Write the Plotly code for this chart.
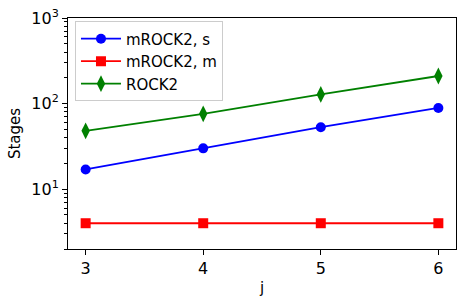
import plotly.graph_objects as go

j = [3, 4, 5, 6]
mrock2_s = [17, 30, 53, 89]
mrock2_m = [4, 4, 4, 4]
rock2 = [48, 76, 128, 210]

series = [
    ("mROCK2, s", mrock2_s, "blue", "circle"),
    ("mROCK2, m", mrock2_m, "red", "square"),
    ("ROCK2", rock2, "green", "diamond-tall"),
]

fig = go.Figure()
for name, vals, color, sym in series:
    fig.add_trace(go.Scatter(
        x=j, y=vals, name=name, mode="lines+markers",
        line=dict(color=color, width=1.8),
        marker=dict(color=color, symbol=sym, size=10 if sym != "diamond-tall" else 12),
    ))

fig.update_layout(
    width=465, height=307,
    margin=dict(l=68, r=9, t=18, b=58, autoexpand=False),
    paper_bgcolor="white", plot_bgcolor="white",
    font=dict(family="DejaVu Sans", color="black"),
    showlegend=True,
    legend=dict(
        x=0.018, y=0.985, xanchor="left", yanchor="top",
        bgcolor="rgba(255,255,255,0.8)", bordercolor="#cccccc", borderwidth=1,
        font=dict(size=15), itemwidth=40, tracegroupgap=0,
    ),
)
fig.update_xaxes(
    range=[2.85, 6.15], tickvals=j, ticktext=[str(v) for v in j],
    ticks="outside", ticklen=5, tickcolor="black",
    showline=True, linecolor="black", linewidth=1, mirror=True,
    showgrid=False, zeroline=False, automargin=False,
    tickfont=dict(size=16),
    title=dict(text="j", font=dict(size=15), standoff=5),
)
fig.update_yaxes(
    type="log", range=[0.301, 3],
    tickvals=[10, 100, 1000], ticktext=["10<sup>1</sup>", "10<sup>2</sup>", "10<sup>3</sup>"],
    ticks="outside", ticklen=5, tickcolor="black",
    minor=dict(ticks="outside", ticklen=3, tickcolor="black", showgrid=False,
               tickvals=[2,3,4,5,6,7,8,9,20,30,40,50,60,70,80,90,200,300,400,500,600,700,800,900]),
    showline=True, linecolor="black", linewidth=1, mirror=True,
    showgrid=False, zeroline=False, automargin=False,
    tickfont=dict(size=16),
    title=dict(text="Stages", font=dict(size=15), standoff=7),
)

fig.write_html("out.html", config={"displayModeBar": False},
               post_script="document.body.style.margin='0';document.body.style.overflow='hidden';")
